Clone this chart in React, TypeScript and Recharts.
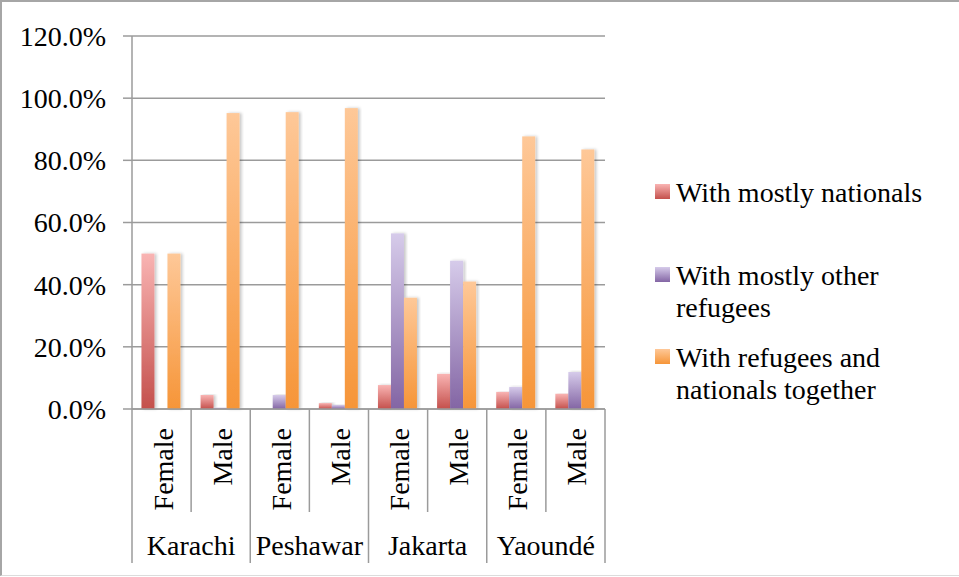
import React from "react";
import {
  BarChart,
  Bar,
  XAxis,
  YAxis,
  CartesianGrid,
  Legend,
} from "recharts";

// ---- data ----
const cities = ["Karachi", "Peshawar", "Jakarta", "Yaoundé"];
const genders = ["Female", "Male"];
const seriesNames = [
  "With mostly nationals",
  "With mostly other refugees",
  "With refugees and nationals together",
];
// percentages, one entry per city/gender pair (Female, Male for each city)
const mostlyNationals = [50.0, 4.5, 0, 1.9, 7.7, 11.3, 5.5, 4.9];
const mostlyOtherRefugees = [0, 0.4, 4.5, 1.3, 56.5, 47.7, 7.1, 11.9];
const refugeesAndNationals = [50.0, 95.2, 95.5, 96.8, 35.8, 41.0, 87.7, 83.5];
const yTicks = [0, 20, 40, 60, 80, 100, 120];

const rows = cities.flatMap((city, ci) =>
  genders.map((gender, gi) => {
    const i = ci * genders.length + gi;
    return {
      key: `${city}-${gender}`,
      city,
      gender,
      nationals: mostlyNationals[i],
      others: mostlyOtherRefugees[i],
      together: refugeesAndNationals[i],
    };
  })
);

// ---- layout ----
const W = 959;
const H = 577;
const PLOT_LEFT = 132;
const PLOT_RIGHT = 605;
const PLOT_TOP = 36;
const PLOT_BOTTOM = 409;
const BAND = (PLOT_RIGHT - PLOT_LEFT) / rows.length;
const FONT = "'Liberation Serif', 'Times New Roman', serif";
const LINE = "#9b9b9b";
const LEGEND_TOPS = [177, 260, 342];

const formatPct = (v: number) => `${v.toFixed(1)}%`;

function CategoryTick(props: any) {
  const { x, y, index } = props;
  const row = rows[index];
  if (!row) return null;
  const left = x - BAND / 2;
  const right = x + BAND / 2;
  const cityStart = index % genders.length === 0;
  const isLast = index === rows.length - 1;
  return (
    <g>
      <line
        x1={left}
        x2={left}
        y1={y}
        y2={y + (cityStart ? 154 : 103)}
        stroke={LINE}
        strokeWidth={1.5}
      />
      {isLast && (
        <line x1={right} x2={right} y1={y} y2={y + 154} stroke={LINE} strokeWidth={1.5} />
      )}
      <text
        transform={`translate(${x + 11}, ${y + 19}) rotate(-90)`}
        textAnchor="end"
        fontFamily={FONT}
        fontSize={28}
        fill="#000"
      >
        {row.gender}
      </text>
      {cityStart && (
        <text
          x={left + BAND}
          y={y + 146}
          textAnchor="middle"
          fontFamily={FONT}
          fontSize={28}
          fill="#000"
        >
          {row.city}
        </text>
      )}
    </g>
  );
}

function ShadowBar(props: any) {
  const { x, y, width, height, fill } = props;
  if (!height || height <= 0) return null;
  return (
    <rect
      x={x}
      y={y}
      width={width}
      height={height}
      fill={fill}
      filter="url(#barShadow)"
    />
  );
}

function LegendBox(props: any) {
  const payload = props.payload || [];
  return (
    <div style={{ position: "relative", width: 300, height: H }}>
      {payload.map((entry: any, i: number) => (
        <div
          key={entry.value}
          style={{
            position: "absolute",
            left: 0,
            top: LEGEND_TOPS[i],
            display: "flex",
            alignItems: "flex-start",
          }}
        >
          <svg width={15} height={15} style={{ marginTop: 7, marginRight: 6, flex: "none" }}>
            <rect x={0} y={0} width={15} height={15} fill={entry.color} />
          </svg>
          <div
            style={{
              width: 258,
              fontFamily: FONT,
              fontSize: 28,
              lineHeight: "32px",
              color: "#000",
              textAlign: "left",
            }}
          >
            {entry.value}
          </div>
        </div>
      ))}
    </div>
  );
}

export default function App() {
  return (
    <div style={{ position: "absolute", left: 0, top: 0, width: W, height: H, background: "#fff" }}>
      <BarChart
        width={W}
        height={H}
        data={rows}
        margin={{ top: PLOT_TOP, right: W - PLOT_RIGHT, bottom: 0, left: 0 }}
        barCategoryGap="16%"
        barGap={0}
      >
        <defs>
          <linearGradient id="gNat" x1="0" y1="0" x2="0" y2="1">
            <stop offset="0%" stopColor="#f9b4b3" />
            <stop offset="100%" stopColor="#c4504c" />
          </linearGradient>
          <linearGradient id="gOth" x1="0" y1="0" x2="0" y2="1">
            <stop offset="0%" stopColor="#d6cbea" />
            <stop offset="100%" stopColor="#8365a4" />
          </linearGradient>
          <linearGradient id="gTog" x1="0" y1="0" x2="0" y2="1">
            <stop offset="0%" stopColor="#fec898" />
            <stop offset="100%" stopColor="#f69538" />
          </linearGradient>
          <filter id="barShadow" x="-30%" y="-5%" width="160%" height="110%">
            <feDropShadow dx="2" dy="0" stdDeviation="1.5" floodColor="#000" floodOpacity="0.22" />
          </filter>
        </defs>
        <CartesianGrid vertical={false} stroke={LINE} strokeWidth={1.5} />
        <XAxis
          dataKey="key"
          interval={0}
          height={H - PLOT_BOTTOM}
          tickLine={false}
          tickSize={0}
          tickMargin={0}
          axisLine={{ stroke: LINE, strokeWidth: 1.5 }}
          tick={<CategoryTick />}
        />
        <YAxis
          width={PLOT_LEFT}
          domain={[0, 120]}
          ticks={yTicks}
          interval={0}
          tickFormatter={formatPct}
          tickSize={9}
          tickMargin={17}
          tickLine={{ stroke: LINE, strokeWidth: 1.5 }}
          axisLine={{ stroke: LINE, strokeWidth: 1.5 }}
          tick={{ fontFamily: FONT, fontSize: 28, fill: "#000" }}
        />
        <Legend
          layout="vertical"
          align="center"
          verticalAlign="middle"
          content={<LegendBox />}
          wrapperStyle={{ left: 655, top: 0, width: 300, height: H }}
        />
        <Bar
          dataKey="nationals"
          name={seriesNames[0]}
          fill="url(#gNat)"
          shape={<ShadowBar />}
          isAnimationActive={false}
        />
        <Bar
          dataKey="others"
          name={seriesNames[1]}
          fill="url(#gOth)"
          shape={<ShadowBar />}
          isAnimationActive={false}
        />
        <Bar
          dataKey="together"
          name={seriesNames[2]}
          fill="url(#gTog)"
          shape={<ShadowBar />}
          isAnimationActive={false}
        />
      </BarChart>
      <div
        style={{
          position: "absolute",
          left: 0,
          top: 0,
          width: W,
          height: H - 1,
          borderTop: "2px solid #a6a6a6",
          borderLeft: "2px solid #a6a6a6",
          borderBottom: "1px solid #dcdcdc",
          boxSizing: "border-box",
          pointerEvents: "none",
        }}
      />
    </div>
  );
}
